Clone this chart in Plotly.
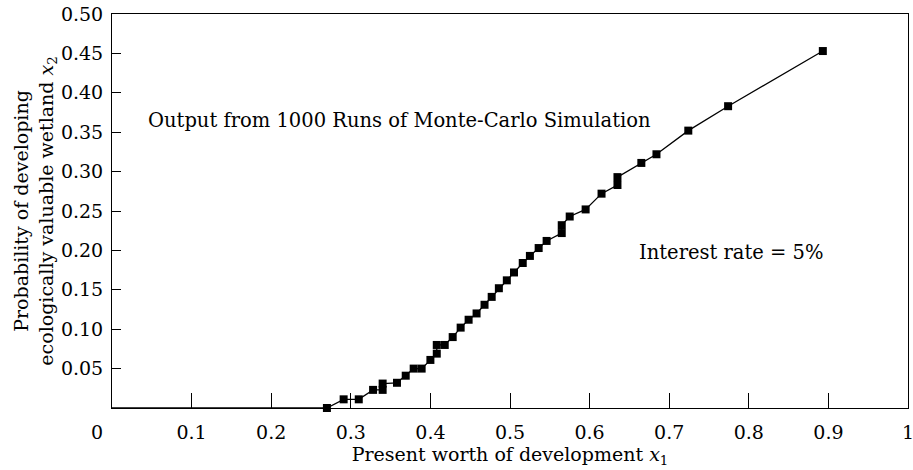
import plotly.graph_objects as go

# Data
present_worth = [0.270, 0.291, 0.310, 0.328, 0.340, 0.340, 0.358, 0.369, 0.379, 0.389,
                 0.400, 0.408, 0.408, 0.418, 0.428, 0.438, 0.448, 0.458, 0.468, 0.477,
                 0.486, 0.496, 0.505, 0.516, 0.525, 0.536, 0.546, 0.565, 0.565, 0.575,
                 0.595, 0.615, 0.635, 0.635, 0.665, 0.684, 0.724, 0.774, 0.893]
probability = [0.000, 0.011, 0.011, 0.023, 0.023, 0.031, 0.032, 0.041, 0.050, 0.050,
               0.061, 0.069, 0.080, 0.080, 0.090, 0.102, 0.112, 0.120, 0.131, 0.141,
               0.152, 0.162, 0.172, 0.184, 0.193, 0.203, 0.212, 0.222, 0.232, 0.243,
               0.252, 0.272, 0.283, 0.293, 0.311, 0.322, 0.352, 0.383, 0.453]
baseline_x = [0.0, 0.270]
baseline_y = [0.0, 0.0]

x_ticks = [0.1, 0.2, 0.3, 0.4, 0.5, 0.6, 0.7, 0.8, 0.9, 1.0]
x_tick_labels = ["0.1", "0.2", "0.3", "0.4", "0.5", "0.6", "0.7", "0.8", "0.9", "1"]
y_ticks = [0.05, 0.10, 0.15, 0.20, 0.25, 0.30, 0.35, 0.40, 0.45, 0.50]
y_tick_labels = ["0.05", "0.10", "0.15", "0.20", "0.25", "0.30", "0.35", "0.40", "0.45", "0.50"]

FONT = "DejaVu Serif"
TICK_SIZE = 19
TEXT_SIZE = 19.5

fig = go.Figure()
fig.add_trace(go.Scatter(x=baseline_x, y=baseline_y, mode="lines",
                         line=dict(color="black", width=1.6), showlegend=False,
                         hoverinfo="skip", cliponaxis=False))
fig.add_trace(go.Scatter(x=present_worth, y=probability, mode="lines+markers",
                         line=dict(color="black", width=1.3),
                         marker=dict(symbol="square", size=8, color="black"),
                         showlegend=False, cliponaxis=False))

fig.update_layout(
    width=913, height=470,
    margin=dict(l=112, r=5, t=14, b=62),
    paper_bgcolor="white", plot_bgcolor="white",
    font=dict(family=FONT, size=TICK_SIZE, color="black"),
    xaxis=dict(range=[0, 1], tickvals=x_ticks, ticktext=x_tick_labels,
               ticks="inside", ticklen=15, tickcolor="black", tickwidth=1,
               ticklabelstandoff=7, ticklabeloverflow="allow",
               showline=True, linecolor="black", linewidth=1, mirror=True,
               showgrid=False, zeroline=False, automargin=False,
               tickfont=dict(family=FONT, size=TICK_SIZE),
               title=dict(text="Present worth of development <i>x</i><sub>1</sub>",
                          font=dict(family=FONT, size=TICK_SIZE), standoff=3)),
    yaxis=dict(range=[0, 0.5], tickvals=y_ticks, ticktext=y_tick_labels,
               ticks="inside", ticklen=9, tickcolor="black", tickwidth=1,
               ticklabelstandoff=4, ticklabeloverflow="allow",
               showline=True, linecolor="black", linewidth=1, mirror=True,
               showgrid=False, zeroline=False, automargin=False,
               tickfont=dict(family=FONT, size=TICK_SIZE),
               title=dict(text="Probability of developing<br>ecologically valuable wetland <i>x</i><sub>2</sub>",
                          font=dict(family=FONT, size=TICK_SIZE), standoff=2)),
    annotations=[
        dict(text="0", x=0, y=0, xref="x", yref="y", xanchor="center", yanchor="middle",
             xshift=-15, yshift=-24, showarrow=False, font=dict(family=FONT, size=TICK_SIZE)),
        dict(text="Output from 1000 Runs of Monte-Carlo Simulation", x=0.0427, y=0.365,
             xref="x", yref="y", xanchor="left", yanchor="middle", showarrow=False,
             font=dict(family=FONT, size=TEXT_SIZE)),
        dict(text="Interest rate = 5%", x=0.6595, y=0.197, xref="x", yref="y",
             xanchor="left", yanchor="middle", showarrow=False,
             font=dict(family=FONT, size=TEXT_SIZE)),
    ],
)

fig.write_html("out.html", config={"displayModeBar": False},
               post_script="document.body.style.margin='0';")
